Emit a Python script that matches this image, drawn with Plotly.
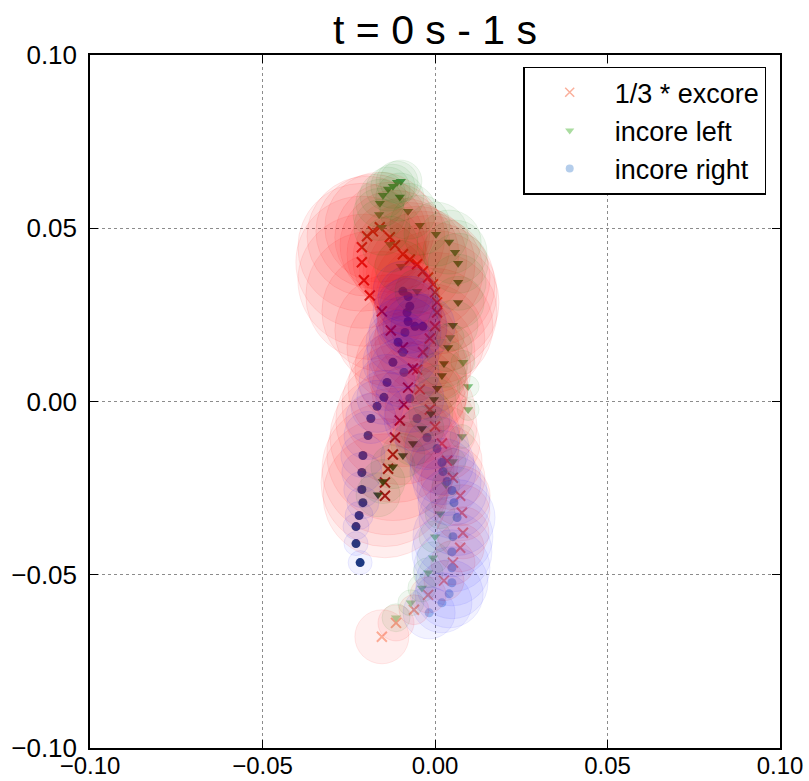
import plotly.graph_objects as go

# ---------------- data ----------------
excore_x = [-0.0154, -0.0113, -0.0061, -0.0020, 0.0026, 0.0052, 0.0073, 0.0081, 0.0078, 0.0073,
            0.0052, 0.0035, 0.0020, 0.0000, -0.0015, -0.0044, -0.0052, -0.0035, -0.0015, 0.0000,
            0.0006, 0.0006, 0.0000, -0.0006, -0.0020, -0.0035, -0.0052, -0.0073, -0.0093, -0.0116,
            -0.0131, -0.0160, -0.0180, -0.0197, -0.0212, -0.0212, -0.0206, -0.0189, -0.0154, -0.0128,
            -0.0093, -0.0064, -0.0078, -0.0090, -0.0102, -0.0116, -0.0122, -0.0136, -0.0145, -0.0145]
excore_y = [-0.0679, -0.0639, -0.0601, -0.0558, -0.0517, -0.0465, -0.0422, -0.0379, -0.0321, -0.0272,
            -0.0220, -0.0171, -0.0121, -0.0072, -0.0023, 0.0035, 0.0092, 0.0142, 0.0182, 0.0217,
            0.0257, 0.0286, 0.0315, 0.0338, 0.0358, 0.0376, 0.0396, 0.0410, 0.0425, 0.0451,
            0.0474, 0.0503, 0.0491, 0.0477, 0.0445, 0.0402, 0.0350, 0.0306, 0.0260, 0.0205,
            0.0156, 0.0095, 0.0040, -0.0009, -0.0055, -0.0104, -0.0153, -0.0194, -0.0234, -0.0272]
excore_r = [27, 18, 15, 18, 20, 22, 24, 26, 28, 30,
            32, 35, 38, 42, 45, 48, 50, 52, 55, 58,
            60, 62, 62, 62, 62, 60, 58, 57, 56, 55,
            55, 55, 57, 60, 64, 66, 66, 64, 60, 56,
            56, 58, 60, 62, 64, 65, 66, 66, 64, 62]

left_x = [-0.0113, -0.0070, -0.0038, -0.0020, -0.0006, 0.0000, 0.0015, 0.0032, 0.0052, 0.0078,
          0.0096, 0.0096, 0.0081, 0.0044, -0.0052, -0.0099, -0.0131, -0.0154, -0.0162, -0.0160,
          -0.0151, -0.0136, -0.0122, -0.0110, -0.0099, -0.0102, -0.0078, -0.0044, 0.0003, 0.0041,
          0.0058, 0.0067, 0.0067, 0.0067, 0.0052, 0.0038, 0.0026, 0.0020, 0.0006, -0.0003,
          -0.0012, -0.0038, -0.0064, -0.0093, -0.0122, -0.0151, -0.0165]
left_y = [-0.0624, -0.0581, -0.0538, -0.0494, -0.0451, -0.0390, -0.0324, -0.0240, -0.0173, -0.0101,
          -0.0023, 0.0043, 0.0113, 0.0185, 0.0318, 0.0390, 0.0454, 0.0503, 0.0540, 0.0572,
          0.0595, 0.0613, 0.0621, 0.0633, 0.0636, 0.0590, 0.0549, 0.0509, 0.0483, 0.0460,
          0.0431, 0.0399, 0.0344, 0.0286, 0.0220, 0.0156, 0.0110, 0.0075, 0.0038, 0.0006,
          -0.0035, -0.0078, -0.0121, -0.0156, -0.0188, -0.0231, -0.0269]
left_r = [14, 13, 14, 15, 16, 16, 15, 14, 13, 12,
          11, 11, 12, 14, 22, 26, 28, 28, 26, 24,
          23, 22, 22, 21, 21, 24, 28, 30, 32, 32,
          32, 30, 28, 26, 25, 24, 24, 24, 23, 22,
          22, 22, 22, 22, 22, 22, 22]

right_x = [-0.0017, 0.0020, 0.0041, 0.0049, 0.0049, 0.0049, 0.0052, 0.0064, 0.0055, 0.0049,
           0.0035, 0.0023, 0.0020, 0.0006, -0.0023, -0.0052, -0.0073, -0.0090, -0.0093, -0.0087,
           -0.0081, -0.0093, -0.0078, -0.0073, -0.0078, -0.0058, -0.0035, -0.0107, -0.0122, -0.0139,
           -0.0148, -0.0168, -0.0186, -0.0194, -0.0209, -0.0212, -0.0212, -0.0209, -0.0220, -0.0229,
           -0.0229, -0.0217]
right_y = [-0.0610, -0.0581, -0.0555, -0.0523, -0.0480, -0.0434, -0.0390, -0.0335, -0.0292, -0.0257,
           -0.0231, -0.0202, -0.0176, -0.0136, -0.0104, -0.0049, 0.0009, 0.0084, 0.0142, 0.0199,
           0.0257, 0.0318, 0.0303, 0.0275, 0.0231, 0.0217, 0.0217, 0.0171, 0.0113, 0.0055,
           0.0012, -0.0014, -0.0049, -0.0098, -0.0156, -0.0205, -0.0254, -0.0292, -0.0329, -0.0361,
           -0.0410, -0.0465]
right_r = [26, 30, 34, 36, 38, 40, 40, 38, 36, 35,
           34, 33, 32, 32, 32, 33, 34, 35, 36, 36,
           34, 30, 30, 30, 32, 32, 32, 32, 30, 28,
           27, 26, 25, 24, 22, 20, 18, 16, 14, 13,
           12, 12]

series_names = ["1/3 * excore", "incore left", "incore right"]
title_text = "t = 0 s - 1 s"
tick_vals = [-0.10, -0.05, 0.00, 0.05, 0.10]

# ---------------- styles ----------------
reds = [[0, "rgb(252,175,150)"], [0.5, "rgb(240,60,45)"], [1, "rgb(150,0,15)"]]
greens = [[0, "rgb(175,222,165)"], [0.5, "rgb(65,160,80)"], [1, "rgb(0,80,25)"]]
blues = [[0, "rgb(178,205,235)"], [0.5, "rgb(70,135,200)"], [1, "rgb(8,40,110)"]]

series = [
    (excore_x, excore_y, excore_r, "x-thin", reds, "255,0,0", 0.09, "rgb(250,175,155)"),
    (left_x, left_y, left_r, "triangle-down", greens, "0,128,0", 0.08, "rgb(170,220,160)"),
    (right_x, right_y, right_r, "circle", blues, "0,0,255", 0.07, "rgb(180,205,235)"),
]

fig = go.Figure()

# small markers
for (xs, ys, rs, sym, cs, rgb, a, legc) in series:
    n = len(xs)
    cidx = list(range(n))
    if sym == "x-thin":
        marker = dict(symbol=sym, size=10, color=cidx, colorscale=cs, cmin=0, cmax=n - 1,
                      line=dict(width=2, color=cidx, colorscale=cs, cmin=0, cmax=n - 1))
    else:
        marker = dict(symbol=sym, size=9, color=cidx, colorscale=cs, cmin=0, cmax=n - 1,
                      line=dict(width=0))
    fig.add_trace(go.Scatter(x=xs, y=ys, mode="markers", marker=marker,
                             opacity=0.9, showlegend=False, hoverinfo="skip"))

# translucent circles
for (xs, ys, rs, sym, cs, rgb, a, legc) in series:
    fig.add_trace(go.Scatter(
        x=xs, y=ys, mode="markers",
        marker=dict(symbol="circle", size=[2 * r for r in rs],
                    color=f"rgba({rgb},{a})",
                    line=dict(width=1, color=f"rgba({rgb},{a + 0.03})")),
        showlegend=False, hoverinfo="skip"))

# legend entries
for name, (xs, ys, rs, sym, cs, rgb, a, legc) in zip(series_names, series):
    if sym == "x-thin":
        m = dict(symbol=sym, size=9, color=legc, line=dict(width=1.5, color=legc))
    else:
        m = dict(symbol=sym, size=8, color=legc)
    fig.add_trace(go.Scatter(x=[None], y=[None], mode="markers", marker=m, name=name))

axis_common = dict(
    range=[-0.1, 0.1], tickvals=tick_vals, tickformat=".2f",
    ticks="inside", ticklen=8, tickwidth=1, tickcolor="black",
    showline=True, linecolor="black", linewidth=1.5, mirror="ticks",
    showgrid=True, gridcolor="rgb(140,140,140)", griddash="3px,3px", gridwidth=1,
    zeroline=False, automargin=False,
)

fig.update_layout(
    width=809, height=781,
    margin=dict(l=90, r=29, t=55, b=33, autoexpand=False),
    paper_bgcolor="white", plot_bgcolor="white",
    font=dict(family="Liberation Sans, Arial, sans-serif", color="black"),
    title=dict(text=title_text, x=0.5, xref="paper", xanchor="center",
               y=1 - 30 / 781, yanchor="middle", font=dict(size=41, color="black")),
    xaxis=dict(axis_common, ticklabelstandoff=-5, tickfont=dict(size=24, color="black")),
    yaxis=dict(axis_common, ticklabelstandoff=6, tickfont=dict(size=26, color="black")),
    legend=dict(x=0.98, y=0.983, xanchor="right", yanchor="top",
                bgcolor="white", bordercolor="black", borderwidth=1.5,
                itemwidth=80, tracegroupgap=0,
                font=dict(size=27, color="black")),
)

fig.write_html("out.html")
